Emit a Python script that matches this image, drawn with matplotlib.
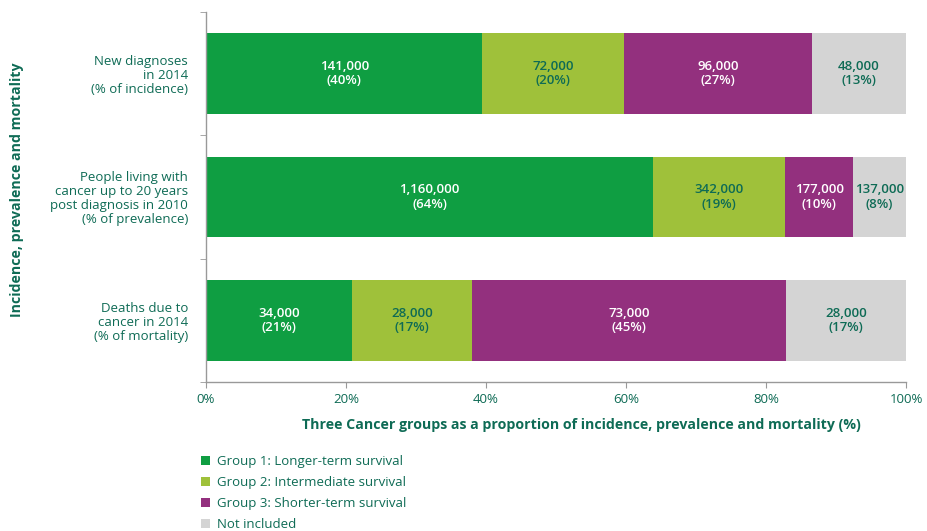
import numpy as np
import matplotlib.pyplot as plt
from matplotlib.patches import Patch

plt.rcParams['font.family'] = ['Open Sans', 'DejaVu Sans']

categories = [
    "New diagnoses\nin 2014\n(% of incidence)",
    "People living with\ncancer up to 20 years\npost diagnosis in 2010\n(% of prevalence)",
    "Deaths due to\ncancer in 2014\n(% of mortality)",
]
groups = [
    "Group 1: Longer-term survival",
    "Group 2: Intermediate survival",
    "Group 3: Shorter-term survival",
    "Not included",
]
# counts per category (rows) and group (columns)
counts = np.array([
    [141000, 72000, 96000, 48000],
    [1160000, 342000, 177000, 137000],
    [34000, 28000, 73000, 28000],
])
pct_labels = [
    ["40%", "20%", "27%", "13%"],
    ["64%", "19%", "10%", "8%"],
    ["21%", "17%", "45%", "17%"],
]
xticks = [0, 20, 40, 60, 80, 100]

colors = ["#0f9e42", "#9fc13a", "#93307e", "#d4d4d4"]
label_colors = ["white", "#0e6b55", "white", "#0e6b55"]
teal = "#0e6b55"

shares = counts / counts.sum(axis=1, keepdims=True) * 100

fig = plt.figure(figsize=(9.27, 5.31), dpi=100)
ax = fig.add_axes([206 / 927, 1 - 382 / 531, 700 / 927, 370 / 531])

y = np.arange(len(categories))
left = np.zeros(len(categories))
for j in range(len(groups)):
    ax.barh(y, shares[:, j], left=left, height=0.655, color=colors[j], label=groups[j])
    for i in range(len(categories)):
        ax.text(left[i] + shares[i, j] / 2, y[i],
                f"{counts[i, j]:,}\n({pct_labels[i][j]})",
                ha="center", va="center", fontsize=9.5, fontweight="semibold",
                color=label_colors[j], linespacing=1.15)
    left += shares[:, j]

ax.set_xlim(0, 100)
ax.set_ylim(2.5, -0.5)
ax.set_xticks(xticks)
ax.set_xticklabels([f"{t}%" for t in xticks], color=teal, fontsize=9.5)
ax.set_yticks(y)
ax.set_yticklabels(categories, color=teal, fontsize=9.5, linespacing=1.1)
ax.set_yticks([-0.5, 0.5, 1.5, 2.5], minor=True)
ax.tick_params(axis="y", which="major", length=0, pad=13)
ax.tick_params(axis="y", which="minor", length=4, color="#999999")
ax.tick_params(axis="x", length=4, color="#999999", pad=4)

for s in ["top", "right"]:
    ax.spines[s].set_visible(False)
for s in ["left", "bottom"]:
    ax.spines[s].set_color("#999999")
    ax.spines[s].set_linewidth(1.0)

fig.text(581 / 927, 1 - 425 / 531,
         "Three Cancer groups as a proportion of incidence, prevalence and mortality (%)",
         ha="center", va="center", fontsize=10.2, fontweight="bold", color=teal)
fig.text(17 / 927, 1 - 190 / 531, "Incidence, prevalence and mortality",
         rotation=90, ha="center", va="center", fontsize=10.2, fontweight="bold", color=teal)

handles = [Patch(facecolor=c, edgecolor="none") for c in colors]
fig.legend(handles, groups, loc="upper left", bbox_to_anchor=(201 / 927, 1 - 455 / 531),
           frameon=False, fontsize=9.5, labelcolor=teal, handlelength=0.65, handleheight=0.65,
           handletextpad=0.6, labelspacing=0.6, borderaxespad=0, borderpad=0)

fig.savefig("out.png", dpi=100)
